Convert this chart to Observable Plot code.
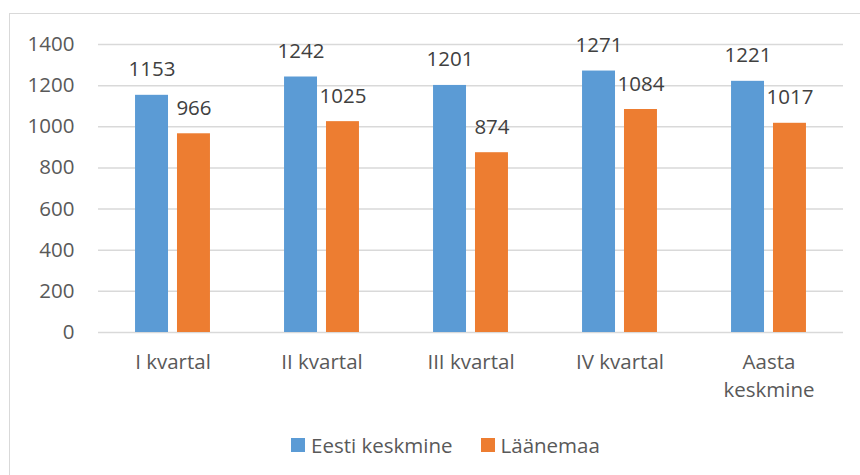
<!DOCTYPE html>
<html>
<head>
<meta charset="utf-8">
<script src="https://cdn.jsdelivr.net/npm/d3@7"></script>
<script src="https://cdn.jsdelivr.net/npm/@observablehq/plot@0.6"></script>
<style>
  html, body { margin: 0; padding: 0; background: #fff; }
  body { width: 860px; height: 475px; position: relative; overflow: hidden; font-family: "Open Sans", sans-serif; }
  #frame { position: absolute; left: 9px; top: 13px; width: 900px; height: 500px; border-left: 1.5px solid #d9d9d9; border-top: 1.5px solid #d9d9d9; }
  #chart { position: absolute; left: 0; top: 0; }
  #legend { position: absolute; left: 291px; top: 431px; display: flex; align-items: center; font-size: 20.5px; color: #595959; }
  .item { display: flex; align-items: center; }
  .sw { width: 14px; height: 14px; margin-right: 6px; }
</style>
</head>
<body>
<div id="frame"></div>
<div id="chart"></div>
<div id="legend"></div>
<script>
const categories = ["I kvartal", "II kvartal", "III kvartal", "IV kvartal", "Aasta\nkeskmine"];
const seriesNames = ["Eesti keskmine", "Läänemaa"];
const eestiKeskmine = [1153, 1242, 1201, 1271, 1221];
const laanemaa = [966, 1025, 874, 1084, 1017];
const yTicks = [0, 200, 400, 600, 800, 1000, 1200, 1400];
const colors = ["#5B9BD5", "#ED7D31"];

const rows = [];
categories.forEach((c, i) => {
  rows.push({cat: c, series: seriesNames[0], value: eestiKeskmine[i]});
  rows.push({cat: c, series: seriesNames[1], value: laanemaa[i]});
});

const chart = Plot.plot({
  width: 860,
  height: 420,
  marginLeft: 97,
  marginRight: 17,
  marginTop: 44,
  marginBottom: 88,
  style: {fontFamily: "'Open Sans', sans-serif", fontSize: "20.5px", color: "#595959", background: "transparent"},
  fx: {domain: categories, padding: 0, label: null},
  x: {domain: seriesNames, paddingInner: 0.214, paddingOuter: 0.883, axis: null, round: false},
  y: {domain: [0, 1400], label: null},
  color: {domain: seriesNames, range: colors},
  marks: [
    Plot.ruleY(yTicks, {stroke: "#d9d9d9", strokeWidth: 1.5, strokeOpacity: 1}),
    Plot.barY(rows, {fx: "cat", x: "series", y: "value", fill: "series"}),
    Plot.text(rows, {fx: "cat", x: "series", y: "value", text: d => String(d.value), lineAnchor: "bottom", dy: -19, fill: "#404040", fontSize: 20.5}),
    Plot.axisY({ticks: yTicks, tickSize: 0, tickPadding: 24, tickFormat: d => String(d), fill: "#595959", fontSize: 20.5}),
    Plot.axisFx({anchor: "bottom", tickSize: 0, tickPadding: 17, lineHeight: 1.36, fill: "#595959", fontSize: 20.5, label: null})
  ]
});
document.getElementById("chart").appendChild(chart);

const legend = document.getElementById("legend");
seriesNames.forEach((s, i) => {
  const item = document.createElement("div");
  item.className = "item";
  if (i > 0) item.style.marginLeft = "28px";
  const sw = document.createElement("div");
  sw.className = "sw";
  sw.style.background = colors[i];
  const t = document.createElement("span");
  t.textContent = s;
  item.appendChild(sw);
  item.appendChild(t);
  legend.appendChild(item);
});
</script>
</body>
</html>
